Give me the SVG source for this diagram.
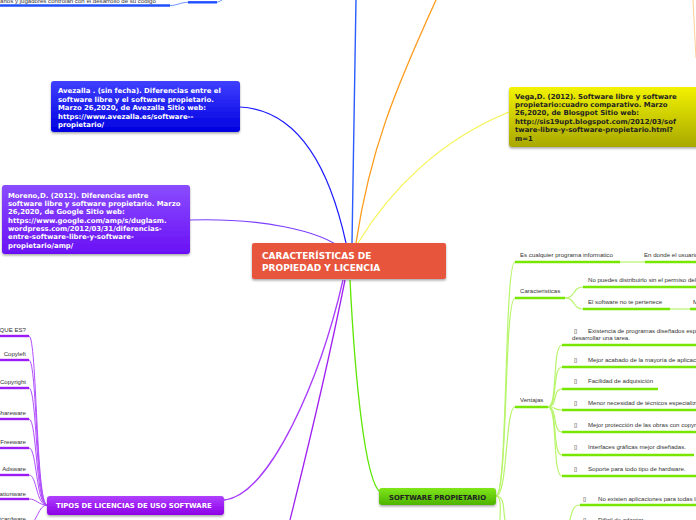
<svg xmlns="http://www.w3.org/2000/svg" width="696" height="520" viewBox="0 0 696 520">
<style>
.nt{font-family:"DejaVu Sans",Verdana,sans-serif;font-weight:bold;font-size:6.9px;fill:#fff}
.nd{font-family:"DejaVu Sans",Verdana,sans-serif;font-weight:bold;font-size:6.9px;fill:#222}
.s{font-family:"Liberation Sans",Arial,sans-serif;font-size:6.1px;fill:#333}
.b{font-family:"DejaVu Sans",sans-serif;font-size:6px;fill:#222}
.ul{fill:none;stroke:#77e600;stroke-width:2.6}
.gl{fill:none;stroke:#b8f56c;stroke-width:1.2}
.pl{fill:none;stroke:#b04dff;stroke-width:1}
.pu{fill:none;stroke:#9b1cf5;stroke-width:2.4}
</style>
<defs>
<filter id="sh" x="-10%" y="-20%" width="120%" height="150%"><feDropShadow dx="0" dy="1.5" stdDeviation="1.2" flood-color="#000" flood-opacity="0.35"/></filter>
<linearGradient id="gb" x1="0" y1="0" x2="0" y2="1"><stop offset="0" stop-color="#4040ff"/><stop offset="1" stop-color="#0000e0"/></linearGradient>
<linearGradient id="gp" x1="0" y1="0" x2="0" y2="1"><stop offset="0" stop-color="#8a4dff"/><stop offset="1" stop-color="#6a10f5"/></linearGradient>
<linearGradient id="gy" x1="0" y1="0" x2="0" y2="1"><stop offset="0" stop-color="#f2f200"/><stop offset="1" stop-color="#a8a800"/></linearGradient>
<linearGradient id="gm" x1="0" y1="0" x2="0" y2="1"><stop offset="0" stop-color="#b040ff"/><stop offset="1" stop-color="#8c00e6"/></linearGradient>
<linearGradient id="gg" x1="0" y1="0" x2="0" y2="1"><stop offset="0" stop-color="#80e61a"/><stop offset="1" stop-color="#4db300"/></linearGradient>
</defs>

<g id="connectors">
<path d="M352,243 C353,160 354,80 356,0" fill="none" stroke="#2a5cff" stroke-width="1.4"/>
<path d="M356,243 C370,150 395,90 436,0" fill="none" stroke="#ff9a1a" stroke-width="1.3"/>
<path d="M693,0 C694,20 695,40 696,58" fill="none" stroke="#ffc27a" stroke-width="0.8"/>
<path d="M240,107 C300,110 330,170 346,243" fill="none" stroke="#1a1aff" stroke-width="1.2"/>
<path d="M190,220 C260,218 320,230 344,250" fill="none" stroke="#7b3dff" stroke-width="1.2"/>
<path d="M509,112 C440,140 390,190 358,243" fill="none" stroke="#f5f550" stroke-width="1.2"/>
<path d="M0,5.5 L170,5.5" fill="none" stroke="#1f4fff" stroke-width="2.4"/>
<path d="M170,5.5 C178,5.5 180,2.3 188,2.3" fill="none" stroke="#4a78ff" stroke-width="0.8"/>
<path d="M188,2.3 L217,2.3" fill="none" stroke="#1f4fff" stroke-width="2.4"/>
<path d="M217,2.3 C219,2 220,1 222,0" fill="none" stroke="#4a78ff" stroke-width="0.8"/>
<path d="M343,280 C320,380 270,495 224,500" fill="none" stroke="#a83cff" stroke-width="1.3"/>
<path d="M345,280 C325,380 305,460 290,520" fill="none" stroke="#a020f0" stroke-width="1.3"/>
<path d="M350,280 C355,380 365,480 380,492" fill="none" stroke="#5ce600" stroke-width="1.3"/>
<path class="pu" d="M0,336 L29,336"/>
<path class="pu" d="M0,360 L29,360"/>
<path class="pu" d="M0,388 L29,388"/>
<path class="pu" d="M0,419 L29,419"/>
<path class="pu" d="M0,448 L29,448"/>
<path class="pu" d="M0,475 L29,475"/>
<path class="pu" d="M0,499 L29,499"/>
<path class="pu" d="M0,524 L29,524"/>
<path class="pl" d="M29,336 C37,336 36,505 47,505"/>
<path class="pl" d="M29,360 C37,360 36,505 47,505"/>
<path class="pl" d="M29,388 C37,388 36,505 47,505"/>
<path class="pl" d="M29,419 C37,419 36,505 47,505"/>
<path class="pl" d="M29,448 C37,448 36,505 47,505"/>
<path class="pl" d="M29,475 C37,475 36,505 47,505"/>
<path class="pl" d="M29,499 C37,499 38,505 47,505"/>
<path class="pl" d="M29,524 C37,524 38,505 47,505"/>
<path class="gl" d="M496,496 C508,496 504,262 515,262"/>
<path class="gl" d="M496,496 C508,496 504,298 515,298"/>
<path class="gl" d="M496,496 C508,496 505,407 515,407"/>
<path class="gl" d="M496,496 C505,496 503,510 505,520"/>
<path class="gl" d="M496,496 C502,496 500,512 500,520"/>
<path class="ul" d="M515,262 L620,262"/>
<path class="gl" d="M620,262 L645,262"/>
<path class="ul" d="M645,262 L696,262"/>
<path class="ul" d="M515,298 L565,298"/>
<path class="gl" d="M565,298 C576,298 572,287 583,287"/>
<path class="gl" d="M565,298 C576,298 572,309 583,309"/>
<path class="ul" d="M583,287 L696,287"/>
<path class="ul" d="M583,309 L670,309"/>
<path class="gl" d="M670,309 L690,309"/>
<path class="ul" d="M690,309 L696,309"/>
<path class="ul" d="M515,407 L548,407"/>
<path class="gl" d="M548,407 C558,407 552,345 562,345"/>
<path class="gl" d="M548,407 C558,407 552,367 562,367"/>
<path class="gl" d="M548,407 C558,407 552,389 562,389"/>
<path class="gl" d="M548,407 C558,407 552,410 562,410"/>
<path class="gl" d="M548,407 C558,407 552,432 562,432"/>
<path class="gl" d="M548,407 C558,407 552,455 562,455"/>
<path class="gl" d="M548,407 C558,407 552,476 562,476"/>
<path class="ul" d="M562,345 L696,345"/>
<path class="ul" d="M562,367 L696,367"/>
<path class="ul" d="M562,389 L658,389"/>
<path class="ul" d="M562,410 L696,410"/>
<path class="ul" d="M562,432 L696,432"/>
<path class="ul" d="M562,455 L694,455"/>
<path class="ul" d="M562,476 L696,476"/>
<path class="gl" d="M570,520 C572,510 574,505 580,505"/>
<path class="ul" d="M580,505 L696,505"/>
</g>

<g id="fragment-top">
<text class="s" x="0" y="2.5" fill="#555">anos y jugadores controlan con el desarrollo de su código</text>
</g>

<g id="center">
<rect x="252" y="243" width="194" height="36" rx="2" fill="#e8553d" filter="url(#sh)"/>
<text x="262" y="258.5" font-family="DejaVu Sans,Verdana,sans-serif" font-weight="bold" font-size="9" fill="#fff">CARACTERÍSTICAS DE</text>
<text x="262" y="270.5" font-family="DejaVu Sans,Verdana,sans-serif" font-weight="bold" font-size="9" fill="#fff">PROPIEDAD Y LICENCIA</text>
</g>

<g id="avezalla">
<rect x="51" y="81" width="189" height="51" rx="3" fill="url(#gb)" filter="url(#sh)"/>
<text class="nt" x="58" y="93">Avezalla . (sin fecha). Diferencias entre el</text>
<text class="nt" x="58" y="101.5">software libre y el software propietario.</text>
<text class="nt" x="58" y="110">Marzo 26,2020, de Avezalla Sitio web:</text>
<text class="nt" x="58" y="118.5">https://www.avezalla.es/software--</text>
<text class="nt" x="58" y="127">propietario/</text>
</g>

<g id="moreno">
<rect x="2" y="185" width="188" height="69" rx="3" fill="url(#gp)" filter="url(#sh)"/>
<text class="nt" x="8" y="197.5">Moreno,D. (2012). Diferencias entre</text>
<text class="nt" x="8" y="206">software libre y software propietario. Marzo</text>
<text class="nt" x="8" y="214">26,2020, de Google Sitio web:</text>
<text class="nt" x="8" y="222.5">https://www.google.com/amp/s/duglasm.</text>
<text class="nt" x="8" y="231">wordpress.com/2012/03/31/diferencias-</text>
<text class="nt" x="8" y="239">entre-software-libre-y-software-</text>
<text class="nt" x="8" y="247.5">propietario/amp/</text>
</g>

<g id="vega">
<rect x="509" y="87" width="190" height="60" rx="3" fill="url(#gy)" filter="url(#sh)"/>
<text class="nd" x="515" y="98.5">Vega,D. (2012). Software libre y software</text>
<text class="nd" x="515" y="106.5">propietario:cuadro comparativo. Marzo</text>
<text class="nd" x="515" y="115">26,2020, de Blosgpot Sitio web:</text>
<text class="nd" x="515" y="123.5">http://sis19upt.blogspot.com/2012/03/sof</text>
<text class="nd" x="515" y="132">tware-libre-y-software-propietario.html?</text>
<text class="nd" x="515" y="140.5">m=1</text>
</g>

<g id="tipos">
<rect x="47" y="496" width="177" height="19" rx="3" fill="url(#gm)" filter="url(#sh)"/>
<text class="nt" x="56" y="508" font-size="6.4">TIPOS DE LICENCIAS DE USO SOFTWARE</text>
</g>

<g id="tipos-items">
<text class="s" x="26" y="331.5" text-anchor="end">QUE ES?</text>
<text class="s" x="26" y="356" text-anchor="end">Copyleft</text>
<text class="s" x="26" y="384" text-anchor="end">Copyright</text>
<text class="s" x="26" y="415" text-anchor="end">Shareware</text>
<text class="s" x="26" y="443.5" text-anchor="end">Freeware</text>
<text class="s" x="26" y="471" text-anchor="end">Adsware</text>
<text class="s" x="26" y="496" text-anchor="end">Donationware</text>
<text class="s" x="26" y="521" text-anchor="end">Postcardware</text>
</g>

<g id="software-propietario">
<rect x="379" y="488" width="117" height="17" rx="3" fill="url(#gg)" filter="url(#sh)"/>
<text class="nd" x="437.5" y="499.5" text-anchor="middle" font-size="6.9" fill="#111">SOFTWARE PROPIETARIO</text>
</g>

<g id="sp-items">
<text class="s" x="520" y="257">Es cualquier programa informatico</text>
<text class="s" x="644" y="257">En donde el usuario tiene limitaciones</text>
<text class="s" x="520" y="293">Caracteristicas</text>
<text class="s" x="588" y="282">No puedes distribuirlo sin el permiso del propietario</text>
<text class="s" x="588" y="304">El software no te pertenece</text>
<text class="s" x="693" y="304">M</text>
<text class="s" x="520" y="402">Ventajas</text>
<text class="b" x="574" y="333">▯</text>
<text class="s" x="588" y="333">Existencia de programas diseñados específicamente para</text>
<text class="s" x="572" y="340">desarrollar una tarea.</text>
<text class="b" x="574" y="362">▯</text>
<text class="s" x="588" y="362">Mejor acabado de la mayoría de aplicaciones.</text>
<text class="b" x="574" y="383">▯</text>
<text class="s" x="588" y="383">Facilidad de adquisición</text>
<text class="b" x="574" y="405">▯</text>
<text class="s" x="588" y="405">Menor necesidad de técnicos especializados.</text>
<text class="b" x="574" y="427">▯</text>
<text class="s" x="588" y="427">Mejor protección de las obras con copyright.</text>
<text class="b" x="574" y="449">▯</text>
<text class="s" x="588" y="449">Interfaces gráficas mejor diseñadas.</text>
<text class="b" x="574" y="471">▯</text>
<text class="s" x="588" y="471">Soporte para todo tipo de hardware.</text>
<text class="b" x="583" y="501">▯</text>
<text class="s" x="598" y="501">No existen aplicaciones para todas las plataformas.</text>
<text class="b" x="583" y="522">▯</text>
<text class="s" x="598" y="522">Dificil de adaptar</text>
</g>
</svg>
